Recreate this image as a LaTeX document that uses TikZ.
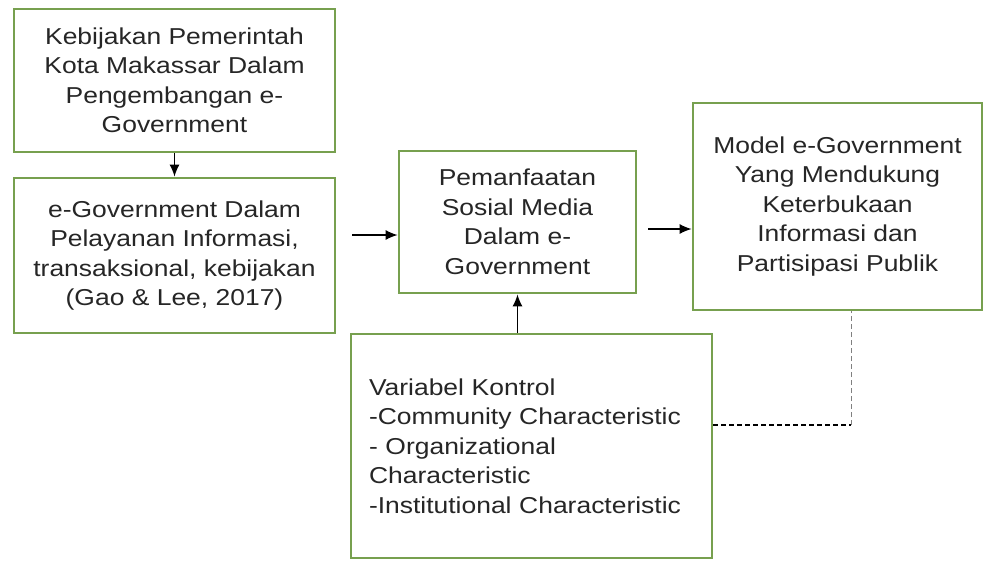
\documentclass[tikz,border=0pt]{standalone}
\usepackage{fontspec}
\setmainfont[FakeStretch=1.15]{Liberation Sans}
\usetikzlibrary{arrows.meta}
\usetikzlibrary{positioning}
\definecolor{hijau}{RGB}{119,160,79}

\begin{document}
\begin{tikzpicture}[x=1pt, y=-1pt,
    kotak/.style={draw=hijau, line width=2.8pt, fill=white, align=center, inner sep=0pt,
      font=\fontsize{23}{29.5}\selectfont, text=black!85},
    panah/.style={-{Latex[length=12pt,width=10pt]}, line width=1.3pt},
    putus/.style={dash pattern=on 5pt off 3pt, line width=1.1pt}]
          \useasboundingbox (0,0) rectangle (986,560);
          \node [kotak, minimum width=321pt, minimum height=143pt] (kebijakan) at (174.5,80.5)
            {Kebijakan Pemerintah\\Kota Makassar Dalam\\Pengembangan e-\\Government};
          \node [kotak, minimum width=321pt, minimum height=155pt] (egov) at (174.5,255.5)
            {e-Government Dalam\\Pelayanan Informasi,\\transaksional, kebijakan\\(Gao \& Lee, 2017)};
          \node [kotak, minimum width=237pt, minimum height=142pt] (pemanfaatan) at (517.5,222)
            {Pemanfaatan\\Sosial Media\\Dalam e-\\Government};
          \node [kotak, minimum width=289pt, minimum height=207pt] (model) at (837.5,206.5)
            {Model e-Government\\Yang Mendukung\\Keterbukaan\\Informasi dan\\Partisipasi Publik};
          \node [kotak, align=left, text width=325pt, inner xsep=18pt, minimum height=224pt] (kontrol) at (531.5,446)
            {Variabel Kontrol\\-Community Characteristic\\- Organizational\\Characteristic\\-Institutional Characteristic};

          \coordinate (p1) at (352,235);
          \coordinate (p2) at (648,229);
          \coordinate (sudut) at (851,425);

          \draw [panah] (kebijakan) -- (egov);
          \draw [panah] (p1) -- (p1 -| pemanfaatan.west);
          \draw [panah] (p2) -- (p2 -| model.west);
          \draw [panah] (kontrol.north -| pemanfaatan.south) -- (pemanfaatan.south);
          \draw [putus] (kontrol.east |- sudut) -- (sudut);
          \draw [putus, gray, line width=0.8pt] (sudut) -- (sudut |- model.south);
        \end{tikzpicture}
\end{document}
